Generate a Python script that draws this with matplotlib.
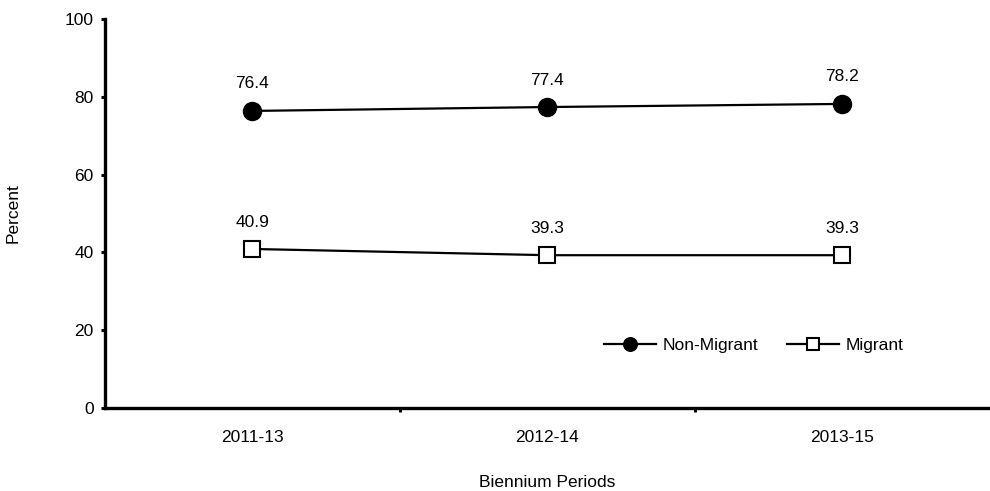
import matplotlib.pyplot as plt

plt.rcParams['font.family'] = ['Liberation Sans', 'DejaVu Sans']

periods = ['2011-13', '2012-14', '2013-15']
non_migrant = [76.4, 77.4, 78.2]
migrant = [40.9, 39.3, 39.3]

fs = 12.5

fig = plt.figure(figsize=(9.9, 4.91), dpi=100)
ax = fig.add_axes([0.106, 0.169, 0.894, 0.792])

x = range(len(periods))
ax.plot(x, non_migrant, color='black', lw=1.6, marker='o', ms=13,
        mfc='black', mec='black', label='Non-Migrant', zorder=3)
ax.plot(x, migrant, color='black', lw=1.6, marker='s', ms=11,
        mfc='white', mec='black', mew=1.5, label='Migrant', zorder=3)

for i, v in enumerate(non_migrant):
    ax.annotate(f'{v:.1f}', (i, v), xytext=(0, 14), textcoords='offset points',
                ha='center', va='bottom', fontsize=fs)
for i, v in enumerate(migrant):
    ax.annotate(f'{v:.1f}', (i, v), xytext=(0, 14), textcoords='offset points',
                ha='center', va='bottom', fontsize=fs)

ax.set_xlim(-0.5, 2.5)
ax.set_ylim(0, 100)
ax.set_yticks(range(0, 101, 20))
ax.set_xticks(list(x))
ax.set_xticklabels(periods, fontsize=fs)
ax.set_xticks([0.5, 1.5], minor=True)
ax.tick_params(axis='x', which='major', length=0, pad=16)
ax.tick_params(axis='x', which='minor', length=3, width=2.2)
ax.tick_params(axis='y', length=3, width=2.2, labelsize=fs, pad=5)

for s in ['top', 'right']:
    ax.spines[s].set_visible(False)
for s in ['left', 'bottom']:
    ax.spines[s].set_linewidth(2.4)

ax.set_ylabel('Percent', fontsize=fs)
ax.yaxis.set_label_coords(-0.095, 0.5)
ax.set_xlabel('Biennium Periods', fontsize=fs)
ax.xaxis.set_label_coords(0.5, -0.172)

leg = ax.legend(loc='center', bbox_to_anchor=(0.733, 0.162), ncol=2, frameon=False,
                fontsize=fs, markerscale=0.75, handlelength=3.0,
                columnspacing=1.7, handletextpad=0.35)

fig.savefig('out.png', dpi=100)
